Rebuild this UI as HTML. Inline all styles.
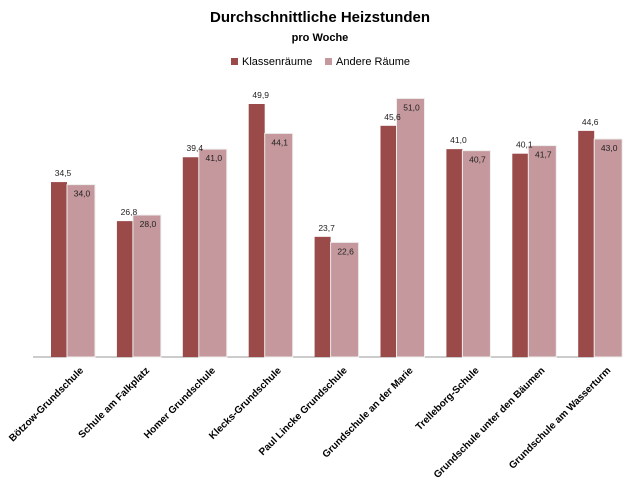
<!DOCTYPE html><html><head><meta charset="utf-8"><style>body{margin:0;background:#fff}svg{display:block}</style></head><body>
<svg width="640" height="480" xmlns="http://www.w3.org/2000/svg" font-family="Liberation Sans, sans-serif">
<text x="320" y="22" text-anchor="middle" font-size="15" font-weight="bold">Durchschnittliche Heizstunden</text>
<text x="320" y="41" text-anchor="middle" font-size="11" font-weight="bold">pro Woche</text>
<rect x="231" y="58" width="7" height="7" fill="#9b4a4a"/><text x="242" y="65" font-size="11">Klassenräume</text>
<rect x="325" y="58" width="7" height="7" fill="#c4989c"/><text x="336" y="65" font-size="11">Andere Räume</text>
<line x1="33" y1="357" x2="612" y2="357" stroke="#999" stroke-width="1"/>
<g id="bars"></g>
<script>
const d=[["Bötzow-Grundschule",34.5,34.0],["Schule am Falkplatz",26.8,28.0],["Homer Grundschule",39.4,41.0],["Klecks-Grundschule",49.9,44.1],["Paul Lincke Grundschule",23.7,22.6],["Grundschule an der Marie",45.6,51.0],["Trelleborg-Schule",41.0,40.7],["Grundschule unter den Bäumen",40.1,41.7],["Grundschule am Wasserturm",44.6,43.0]];
const s=5.07,b=357,ns="http://www.w3.org/2000/svg";let g=document.getElementById('bars');
function el(t,a,txt){let e=document.createElementNS(ns,t);for(let k in a)e.setAttribute(k,a[k]);if(txt)e.textContent=txt;g.appendChild(e);return e;}
d.forEach((r,i)=>{let x=51+i*65.9,h1=r[1]*s,h2=r[2]*s;
el('rect',{x:x,y:b-h1,width:16,height:h1,fill:'#9b4a4a'});
el('rect',{x:x+16,y:b-h2,width:28,height:h2,fill:'#c4989c',stroke:'#eee','stroke-width':1});
el('text',{x:x+12,y:b-h1-6,'font-size':8.5,'text-anchor':'middle',fill:'#222'},r[1].toFixed(1).replace('.',','));
el('text',{x:x+31,y:b-h2+12,'font-size':8.5,'text-anchor':'middle',fill:'#222'},r[2].toFixed(1).replace('.',','));
el('text',{transform:`translate(${x+33},371) rotate(-45)`,'text-anchor':'end','font-size':10,'font-weight':'bold'},r[0]);});
</script>
</svg></body></html>
